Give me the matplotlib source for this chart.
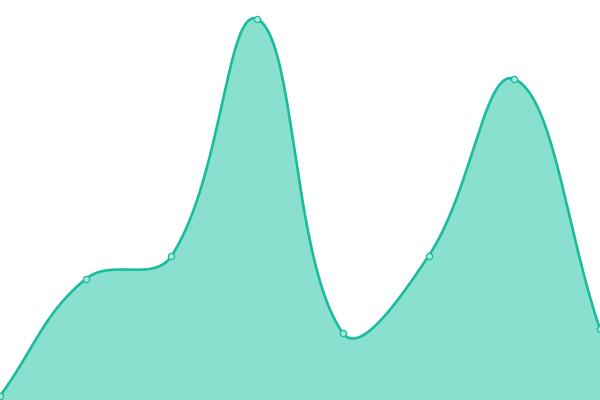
import numpy as np
import matplotlib
matplotlib.use("Agg")
import matplotlib.pyplot as plt

categories = ["A", "B", "C", "D", "E", "F", "G", "H"]
values = [4, 121, 144, 381, 67, 144, 321, 71]

LINE = "#1abc9c"
FILL = "#8ae0cf"
TENSION = 0.4

fig = plt.figure(figsize=(6, 4), dpi=100)
ax = fig.add_axes([0, 0, 1, 1])
ax.set_xlim(0, len(categories) - 1)
ax.set_ylim(0, 400)
ax.axis("off")

x = np.arange(len(categories), dtype=float)
y = np.array(values, dtype=float)
pts = ax.transData.transform(np.column_stack([x, y]))

n = len(pts)
cps = []
for i in range(n):
    cur = pts[i]
    prev = pts[i - 1] if i > 0 else cur
    nxt = pts[i + 1] if i < n - 1 else cur
    d01 = np.hypot(*(cur - prev))
    d12 = np.hypot(*(nxt - cur))
    tot = d01 + d12
    s01 = d01 / tot if tot else 0
    s12 = d12 / tot if tot else 0
    fa = TENSION * s01
    fb = TENSION * s12
    cp_prev = cur - fa * (nxt - prev)
    cp_next = cur + fb * (nxt - prev)
    cps.append((cp_prev, cp_next))

t = np.linspace(0, 1, 80)[:, None]
curve = []
for i in range(n - 1):
    p0 = pts[i]
    p1 = cps[i][1]
    p2 = cps[i + 1][0]
    p3 = pts[i + 1]
    seg = ((1 - t) ** 3) * p0 + 3 * ((1 - t) ** 2) * t * p1 + 3 * (1 - t) * t ** 2 * p2 + t ** 3 * p3
    curve.append(seg if i == 0 else seg[1:])
curve = np.vstack(curve)
data_curve = ax.transData.inverted().transform(curve)

cx, cy = data_curve[:, 0], data_curve[:, 1]
ax.fill_between(cx, 0, cy, color=FILL, linewidth=0, zorder=1)
ax.plot(cx, cy, color=LINE, linewidth=1.9, solid_capstyle="round", zorder=2, clip_on=False)
ax.plot(x, y, linestyle="none", marker="o", markersize=4.5,
        markerfacecolor="#a6e8da", markeredgecolor=LINE, markeredgewidth=0.9,
        zorder=3, clip_on=False)

fig.savefig("out.png", dpi=100)
